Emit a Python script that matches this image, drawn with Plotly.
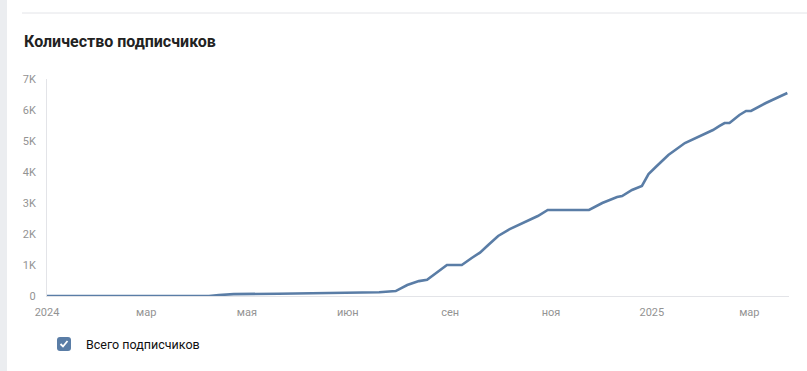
import plotly.graph_objects as go

# ---- data ----
dates = [
    "2024-01-01", "2024-02-01", "2024-03-01", "2024-04-08", "2024-04-14", "2024-04-23",
    "2024-05-20", "2024-06-20", "2024-07-20", "2024-07-30", "2024-08-06", "2024-08-13",
    "2024-08-18", "2024-08-30", "2024-09-08", "2024-09-14", "2024-09-19", "2024-09-24",
    "2024-09-30", "2024-10-07", "2024-10-15", "2024-10-24", "2024-10-30", "2024-11-24",
    "2024-12-02", "2024-12-11", "2024-12-14", "2024-12-20", "2024-12-26", "2024-12-30",
    "2025-01-04", "2025-01-11", "2025-01-21", "2025-01-30", "2025-02-07", "2025-02-11",
    "2025-02-14", "2025-02-17", "2025-02-23", "2025-02-27", "2025-03-02", "2025-03-11",
    "2025-03-19", "2025-03-24",
]
subscribers = [
    0, 0, 0, 0, 30, 60,
    75, 100, 120, 160, 355, 480,
    520, 1000, 1000, 1225, 1400, 1645,
    1935, 2160, 2355, 2580, 2775, 2775,
    3000, 3195, 3225, 3420, 3550, 3935,
    4195, 4550, 4935, 5160, 5355, 5485,
    5580, 5580, 5840, 5970, 5970, 6225,
    6420, 6550,
]
tick_dates = ["2024-01-01", "2024-03-01", "2024-05-01", "2024-07-01",
              "2024-09-01", "2024-11-01", "2025-01-01", "2025-03-01"]
tick_labels = ["2024", "мар", "мая", "июн", "сен", "ноя", "2025", "мар"]
y_ticks = [0, 1000, 2000, 3000, 4000, 5000, 6000, 7000]
y_labels = ["0", "1K", "2K", "3K", "4K", "5K", "6K", "7K"]
title_text = "Количество подписчиков"
series_name = "Всего подписчиков"

W, H = 807, 371
L, R, T, B = 47, 789, 79, 296
PW, PH = R - L, B - T

def px(x):
    return (x - L) / PW

def py(y):
    return (B - y) / PH

LINE = "#5a7da6"

fig = go.Figure()
fig.add_trace(go.Scatter(
    x=dates, y=subscribers, mode="lines", name=series_name,
    line=dict(color=LINE, width=2.6), hoverinfo="x+y", showlegend=False,
))

fig.update_layout(
    width=W, height=H,
    margin=dict(l=L, r=W - R, t=T, b=H - B, pad=0),
    paper_bgcolor="white", plot_bgcolor="white",
    font=dict(family="Roboto, Arial, sans-serif", color="#939393", size=11),
    xaxis=dict(
        range=["2024-01-01", "2025-03-25"], tickvals=tick_dates, ticktext=tick_labels,
        showgrid=False, zeroline=False, showline=True, linecolor="#e3e4e8", linewidth=1,
        ticks="", ticklabelstandoff=6, tickfont=dict(size=11, color="#939393"),
    ),
    yaxis=dict(
        range=[0, 7000], tickvals=y_ticks, ticktext=y_labels,
        showgrid=False, zeroline=False, showline=True, linecolor="#e3e4e8", linewidth=1,
        ticks="", ticklabelstandoff=8, tickfont=dict(size=11, color="#939393"),
    ),
    showlegend=False,
)

# page frame: left strip and top separator
fig.add_shape(type="rect", xref="paper", yref="paper", x0=px(-2), x1=px(7), y0=py(-2), y1=py(H + 2),
              fillcolor="#ebedf0", line=dict(width=0), layer="above")
fig.add_shape(type="line", xref="paper", yref="paper", x0=px(22), x1=px(W + 2), y0=py(13), y1=py(13),
              line=dict(color="#e3e4e8", width=1))

# title
fig.add_annotation(text=title_text, xref="paper", yref="paper", x=px(22), y=py(42),
                   xanchor="left", yanchor="middle", showarrow=False,
                   font=dict(family="Roboto, Arial, sans-serif", size=16, color="#222222", weight="bold"))

# legend (checkbox + label)
cx0, cx1, cy0, cy1 = 57, 71, 337, 351
r = 3
path = (f"M {px(cx0 + r)},{py(cy0)} L {px(cx1 - r)},{py(cy0)} "
        f"Q {px(cx1)},{py(cy0)} {px(cx1)},{py(cy0 + r)} L {px(cx1)},{py(cy1 - r)} "
        f"Q {px(cx1)},{py(cy1)} {px(cx1 - r)},{py(cy1)} L {px(cx0 + r)},{py(cy1)} "
        f"Q {px(cx0)},{py(cy1)} {px(cx0)},{py(cy1 - r)} L {px(cx0)},{py(cy0 + r)} "
        f"Q {px(cx0)},{py(cy0)} {px(cx0 + r)},{py(cy0)} Z")
fig.add_shape(type="path", xref="paper", yref="paper", path=path,
              fillcolor=LINE, line=dict(width=0))
check = f"M {px(60.5)},{py(344)} L {px(63)},{py(346.5)} L {px(67.5)},{py(341)}"
fig.add_shape(type="path", xref="paper", yref="paper", path=check,
              line=dict(color="white", width=1.8))
fig.add_annotation(text=series_name, xref="paper", yref="paper", x=px(84), y=py(344),
                   xanchor="left", yanchor="middle", showarrow=False,
                   font=dict(family="Roboto, Arial, sans-serif", size=12.5, color="#111111"))

fig.write_html("out.html", config={"displayModeBar": False},
               post_script="document.body.style.margin='0';document.body.style.overflow='hidden';")
